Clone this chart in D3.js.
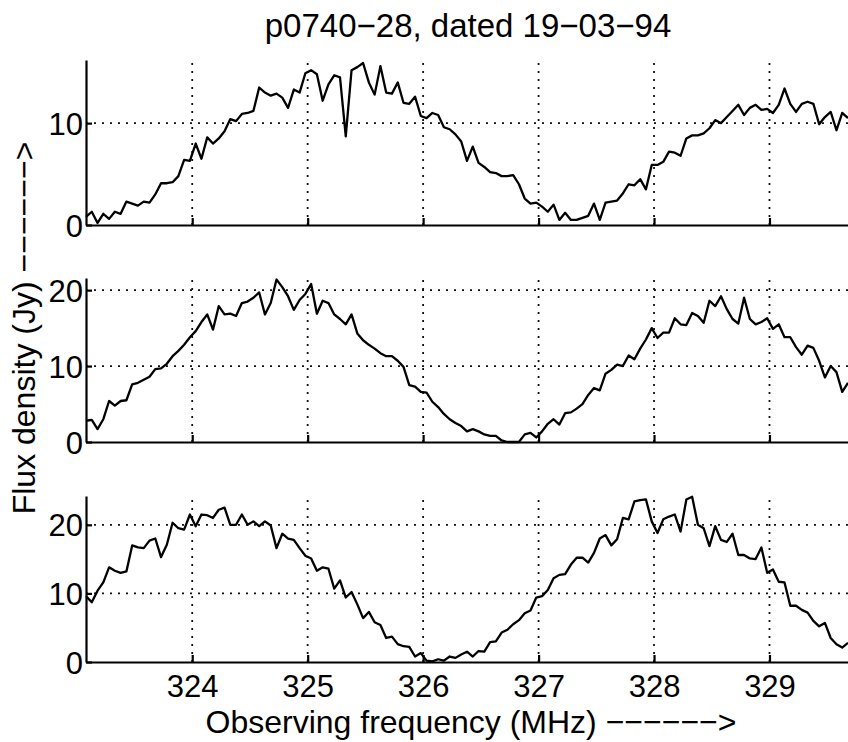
<!DOCTYPE html>
<html>
<head>
<meta charset="utf-8">
<script src="https://cdn.jsdelivr.net/npm/d3@7"></script>
<style>
  body { margin: 0; background: #fff; }
  text { font-family: "Liberation Sans", Arial, Helvetica, sans-serif; fill: #000; }
</style>
</head>
<body>
<svg id="chart" width="848" height="742"></svg>
<script>
// channel grid (MHz)
var freqStart = 323.08, freqStep = 0.05;

// flux density (Jy) per channel
var flux1 = [0.8,1.3,0.2,1.1,0.6,1.3,1.1,2.3,2.1,1.9,2.3,2.2,3.0,4.1,4.1,4.2,4.8,6.4,6.3,8.0,
  6.5,8.6,8.0,8.5,9.2,10.4,10.2,10.9,11.0,11.2,13.5,13.0,12.7,12.9,12.5,11.5,13.3,13.0,14.9,15.2,
  14.8,12.2,13.8,14.7,14.5,8.7,15.2,15.5,15.9,14.0,12.8,15.6,13.0,12.9,14.0,12.0,11.9,12.6,10.7,
  10.5,11.0,10.8,9.6,9.4,8.9,8.2,6.3,7.7,6.1,5.7,5.2,5.1,4.8,4.8,4.9,4.0,2.6,2.1,2.2,1.8,
  1.3,2.0,0.5,1.2,0.5,0.5,0.7,0.9,2.1,0.5,2.2,2.3,2.4,3.1,4.0,3.9,4.5,3.5,5.9,5.9,
  6.2,7.2,7.1,6.8,8.5,8.8,8.8,9.0,9.5,10.3,10.0,10.6,11.2,11.8,10.8,11.5,11.8,11.3,11.4,11.0,
  11.8,13.4,11.9,11.1,11.9,12.1,11.9,9.9,10.6,11.1,9.3,11.0,10.5];

var flux2 = [2.8,2.9,1.7,3.0,5.4,4.8,5.4,5.5,7.6,7.8,8.2,8.6,9.6,9.7,10.3,11.3,12.0,12.8,13.8,14.6,
  15.8,16.8,14.8,17.9,16.8,16.9,16.6,18.3,18.5,19.0,19.7,16.8,18.3,21.4,20.4,19.2,17.4,18.7,19.5,20.8,
  16.9,18.6,18.3,16.8,16.2,15.5,16.8,14.3,13.4,12.8,12.3,11.7,11.3,11.3,10.7,9.9,7.5,7.3,6.6,
  6.5,5.3,4.6,3.7,3.0,2.5,2.1,1.4,1.7,1.4,1.0,0.8,0.8,0.2,0.0,0.0,0.0,1.0,1.2,0.6,1.4,
  2.4,3.0,2.3,3.8,3.9,4.4,5.0,6.2,7.1,6.8,9.0,9.5,10.2,10.0,11.4,10.9,12.3,13.5,15.0,13.7,
  14.4,14.4,16.3,15.5,15.4,17.0,16.6,15.7,18.6,17.9,19.2,17.5,16.2,15.6,19.0,16.2,15.5,15.8,16.3,14.9,
  15.5,13.8,13.8,12.5,11.5,12.7,12.4,10.7,8.5,10.0,9.2,6.6,7.8];

var flux3 = [9.6,8.7,10.4,11.6,13.8,13.3,13.0,13.2,17.0,16.7,16.6,17.7,18.0,15.3,17.1,20.3,19.5,19.3,21.5,19.8,
  21.5,21.4,21.0,22.2,22.5,20.0,20.0,21.5,20.0,20.5,19.8,20.5,19.9,16.6,18.7,18.0,17.8,16.6,15.5,15.1,
  13.3,13.8,13.6,10.7,11.9,9.4,10.2,8.4,6.4,7.3,5.8,5.4,3.5,3.7,2.6,2.3,2.2,0.8,1.3,
  0.2,0.1,0.4,0.2,0.8,0.6,1.1,1.5,0.8,1.6,1.5,2.9,3.0,4.3,4.7,5.5,6.1,7.1,7.5,9.4,
  9.6,10.5,12.2,12.7,12.8,14.2,15.2,15.2,14.5,15.9,18.0,18.5,17.0,17.9,21.0,20.8,23.4,23.6,23.7,20.5,
  18.8,20.8,21.2,21.5,19.0,23.7,24.1,20.0,19.5,16.9,19.8,17.8,17.5,18.7,15.6,15.6,15.1,15.0,16.7,13.0,
  13.5,11.7,11.6,8.2,8.2,7.6,7.2,6.0,5.2,5.7,3.5,2.6,2.1,2.8];

var xTicks = [324, 325, 326, 327, 328, 329];
var yTicks1 = [0, 10];
var yTicks2 = [0, 10, 20];
var yTicks3 = [0, 10, 20];
var yMax = [16.2, 21.6, 24.2];

var titleText = "p0740\u221228, dated 19\u221203\u221294";
var xLabelText = "Observing frequency (MHz) \u2212\u2212\u2212\u2212\u2212\u2212>";
var yLabelText = "Flux density (Jy) \u2212\u2212\u2212\u2212\u2212\u2212>";

var freqs = flux1.map(function(d, i) { return +(freqStart + i * freqStep).toFixed(3); });

var svg = d3.select("#chart");
var left = 86, right = 848;
var fs = 31;

var x = d3.scaleLinear()
  .domain([freqStart, freqs[freqs.length - 1]])
  .range([left, right]);

// pixel extents of the three panels
var panels = [
  {data: flux1, ymax: yMax[0], ticks: yTicks1, top: 60,  bottom: 225, labels: false},
  {data: flux2, ymax: yMax[1], ticks: yTicks2, top: 278, bottom: 442, labels: false},
  {data: flux3, ymax: yMax[2], ticks: yTicks3, top: 496, bottom: 662, labels: true}
];

panels.forEach(function(p) {
  var y = d3.scaleLinear().domain([0, p.ymax]).range([p.bottom, p.top]);
  var g = svg.append("g");

  // dotted grid
  g.selectAll(".vgrid")
    .data(xTicks)
    .enter().append("line")
    .attr("x1", function(d) { return x(d); })
    .attr("x2", function(d) { return x(d); })
    .attr("y1", y(0))
    .attr("y2", p.top)
    .attr("stroke", "#111")
    .attr("stroke-width", 1.8)
    .attr("stroke-dasharray", "2,6");

  g.selectAll(".hgrid")
    .data(p.ticks.filter(function(d) { return d > 0; }))
    .enter().append("line")
    .attr("x1", left)
    .attr("x2", right)
    .attr("y1", function(d) { return y(d); })
    .attr("y2", function(d) { return y(d); })
    .attr("stroke", "#111")
    .attr("stroke-width", 1.8)
    .attr("stroke-dasharray", "2,6");

  // axes, ticks pointing inwards
  var xAxis = d3.axisBottom(x)
    .tickValues(xTicks)
    .tickSizeInner(-7)
    .tickSizeOuter(0)
    .tickPadding(13)
    .tickFormat(p.labels ? d3.format("d") : "");

  var yAxis = d3.axisLeft(y)
    .tickValues(p.ticks)
    .tickSizeInner(-6)
    .tickSizeOuter(0)
    .tickPadding(3)
    .tickFormat(d3.format("d"));

  var gx = g.append("g")
    .attr("transform", "translate(0," + y(0) + ")")
    .call(xAxis);

  var gy = g.append("g")
    .attr("transform", "translate(" + left + ",0)")
    .call(yAxis);

  [gx, gy].forEach(function(a) {
    a.attr("font-family", null).attr("font-size", null);
    a.select(".domain").attr("stroke", "#000").attr("stroke-width", 2.2);
    a.selectAll(".tick line").attr("stroke", "#000").attr("stroke-width", 2.2);
    a.selectAll(".tick text").style("font-size", fs + "px");
  });
  gy.selectAll(".tick text").attr("dy", "0.36em");
  if (!p.labels) gx.selectAll(".tick text").remove();

  // spectrum
  var line = d3.line()
    .x(function(d, i) { return x(freqs[i]); })
    .y(function(d) { return y(d); });

  g.append("path")
    .datum(p.data)
    .attr("d", line)
    .attr("fill", "none")
    .attr("stroke", "#000")
    .attr("stroke-width", 2.3)
    .attr("stroke-linejoin", "round");
});

// title
svg.append("text")
  .attr("x", 468)
  .attr("y", 37)
  .attr("text-anchor", "middle")
  .style("font-size", "33px")
  .text(titleText);

// x-label
svg.append("text")
  .attr("x", 471)
  .attr("y", 733)
  .attr("text-anchor", "middle")
  .style("font-size", "32px")
  .text(xLabelText);

// y-label
svg.append("text")
  .attr("transform", "translate(35,328) rotate(-90)")
  .attr("text-anchor", "middle")
  .style("font-size", "32px")
  .text(yLabelText);
</script>
</body>
</html>
